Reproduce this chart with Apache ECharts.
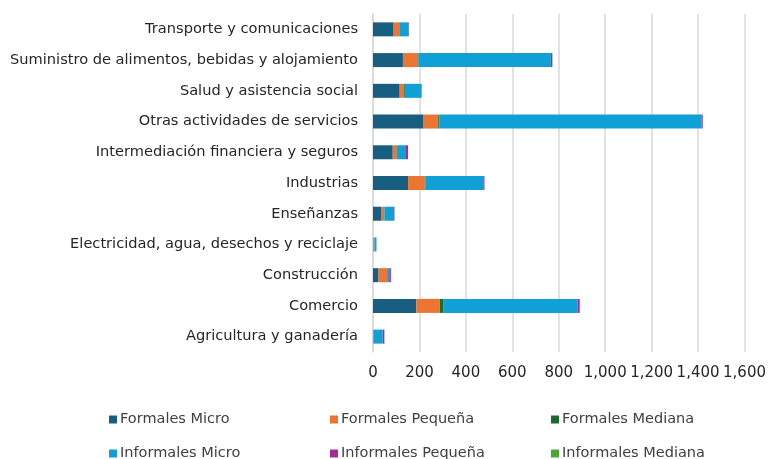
<!DOCTYPE html>
<html>
<head>
<meta charset="utf-8">
<script src="https://cdn.jsdelivr.net/npm/echarts@6/dist/echarts.min.js"></script>
<style>
  html, body { margin: 0; padding: 0; background: #fff; }
  #chart { width: 769px; height: 459px; }
</style>
</head>
<body>
<div id="chart"></div>
<script>
// categories bottom -> top (category y axis grows upward)
var categories = [
  "Agricultura y ganadería",
  "Comercio",
  "Construcción",
  "Electricidad, agua, desechos y reciclaje",
  "Enseñanzas",
  "Industrias",
  "Intermediación financiera y seguros",
  "Otras actividades de servicios",
  "Salud y asistencia social",
  "Suministro de alimentos, bebidas y alojamiento",
  "Transporte y comunicaciones"
];

var formalesMicro     = [1, 187, 24, 1, 37, 151, 85, 218, 115, 129, 89];
var formalesPequena   = [1, 101, 37, 5, 11, 72, 17, 63, 17, 63, 23];
var formalesMediana   = [0, 14, 0, 0, 1, 2, 1, 4, 5, 4, 2];
var informalesMicro   = [40, 579, 13, 9, 43, 250, 39, 1131, 72, 570, 40];
var informalesPequena = [7, 9, 4, 0, 1, 5, 9, 4, 1, 6, 1];
var informalesMediana = [0, 1, 0, 0, 0, 0, 0, 0, 0, 1, 0];

var seriesNames = ["Formales Micro", "Formales Pequeña", "Formales Mediana",
                   "Informales Micro", "Informales Pequeña", "Informales Mediana"];
var seriesData = [formalesMicro, formalesPequena, formalesMediana,
                  informalesMicro, informalesPequena, informalesMediana];
var colors = ["#175e80", "#ed7532", "#1d6b2c", "#10a0d6", "#a32c98", "#4ba834"];

var xTicks = [0, 200, 400, 600, 800, 1000, 1200, 1400, 1600];

var font = "DejaVu Sans";

var chart = echarts.init(document.getElementById("chart"));

var series = seriesNames.map(function (name, i) {
  return {
    name: name,
    type: "bar",
    stack: "total",
    barWidth: 14,
    data: seriesData[i],
    itemStyle: { color: colors[i] },
    emphasis: { disabled: true }
  };
});

// one legend per item so the 3x2 grid lines up like the original
var legendLeft = [104, 325, 546];
var legendTop = [407, 441];
var legends = seriesNames.map(function (name, i) {
  return {
    data: [name],
    left: legendLeft[i % 3],
    top: legendTop[Math.floor(i / 3)],
    itemWidth: 8,
    itemHeight: 8,
    icon: "rect",
    selectedMode: false,
    textStyle: { fontFamily: font, fontSize: 14.5, color: "#404040", padding: [0, 0, 0, -2] }
  };
});

var option = {
  animation: false,
  color: colors,
  grid: { left: 373, right: 24, top: 14, height: 338, containLabel: false },
  legend: legends,
  xAxis: {
    type: "value",
    min: xTicks[0],
    max: xTicks[xTicks.length - 1],
    interval: 200,
    axisLine: { show: false },
    axisTick: { show: false },
    splitLine: { show: true, lineStyle: { color: "#d9d9d9", width: 1.5 } },
    axisLabel: {
      fontFamily: font,
      fontSize: 15,
      color: "#262626",
      margin: 14,
      formatter: function (v) { return v.toLocaleString("en-US"); }
    }
  },
  yAxis: {
    type: "category",
    data: categories,
    axisLine: { show: true, lineStyle: { color: "#d9d9d9", width: 1.5 } },
    axisTick: { show: false },
    axisLabel: { fontFamily: font, fontSize: 14.6, color: "#262626", margin: 15 }
  },
  series: series
};

chart.setOption(option);
</script>
</body>
</html>
